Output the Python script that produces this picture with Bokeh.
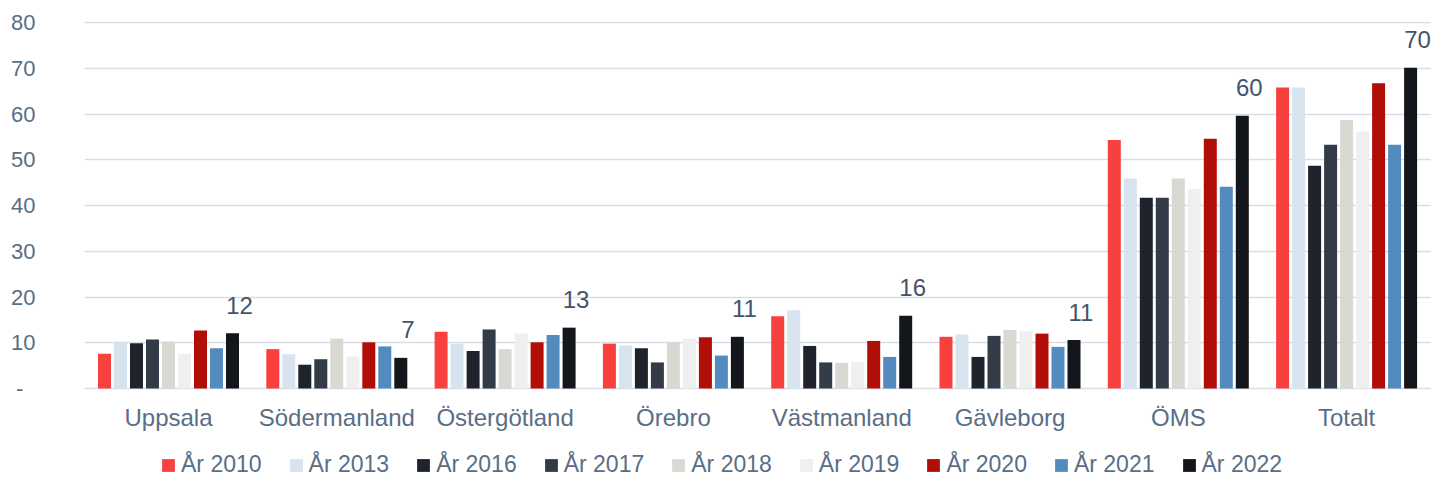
from bokeh.plotting import figure
from bokeh.models import ColumnDataSource, Range1d, FixedTicker, Legend, LegendItem
from bokeh.core.properties import value
from bokeh.embed import file_html
from bokeh.resources import INLINE

categories = ["Uppsala", "Södermanland", "Östergötland", "Örebro", "Västmanland",
              "Gävleborg", "ÖMS", "Totalt"]
years = ["År 2010", "År 2013", "År 2016", "År 2017", "År 2018", "År 2019",
         "År 2020", "År 2021", "År 2022"]

y2010 = [7.6, 8.6, 12.4, 9.8, 15.8, 11.3, 54.3, 65.8]
y2013 = [10.0, 7.5, 9.8, 9.4, 17.1, 11.8, 45.9, 65.8]
y2016 = [9.9, 5.2, 8.2, 8.8, 9.3, 6.9, 41.7, 48.7]
y2017 = [10.7, 6.4, 12.9, 5.7, 5.7, 11.5, 41.7, 53.3]
y2018 = [10.3, 10.9, 8.6, 10.1, 5.6, 12.8, 45.9, 58.7]
y2019 = [7.6, 7.0, 12.0, 10.9, 5.8, 12.5, 43.6, 56.2]
y2020 = [12.7, 10.1, 10.1, 11.2, 10.4, 12.0, 54.6, 66.7]
y2021 = [8.8, 9.2, 11.7, 7.2, 6.9, 9.1, 44.1, 53.3]
y2022 = [12.1, 6.7, 13.3, 11.3, 15.9, 10.6, 59.6, 70.1]

y_ticks = [0, 10, 20, 30, 40, 50, 60, 70, 80]
y_tick_labels = ["-\u00a0\u00a0", "10", "20", "30", "40", "50", "60", "70", "80"]

series = [y2010, y2013, y2016, y2017, y2018, y2019, y2020, y2021, y2022]
colors = ["#f8413e", "#d7e3ef", "#1f242c", "#333c46", "#d9d9d4", "#efefef",
          "#b20e08", "#548bbf", "#13171b"]

FONT = "Liberation Sans"
TICK_COLOR = "#596e86"
LABEL_COLOR = "#44546a"

# layout geometry (pixels)
W, H = 1431, 478
left_b, top_b = 84, 21
frame_w = W - left_b
px_per_cat = 168.3
first_center = 168
zero_px, top_px = 388, 22          # pixel rows of y=0 and y=80
ymax = 80
px_per_unit = (zero_px - top_px) / ymax

x_start = -(first_center - left_b) / px_per_cat
x_end = x_start + frame_w / px_per_cat
y_end = ymax + (top_px - top_b) / px_per_unit
y_start = -(H - zero_px) / px_per_unit

p = figure(width=W, height=H, output_backend="svg", toolbar_location=None,
           x_axis_location=None,
           x_range=Range1d(x_start, x_end), y_range=Range1d(y_start, y_end),
           min_border_left=left_b, min_border_right=0, min_border_top=top_b,
           min_border_bottom=0)
p.outline_line_color = None
p.background_fill_color = "white"
p.border_fill_color = "white"

pitch = 16 / px_per_cat
bw = 13 / px_per_cat
n = len(series)
xs_idx = list(range(len(categories)))

items = []
for j, (vals, col, name) in enumerate(zip(series, colors, years)):
    off = (j - (n - 1) / 2) * pitch
    src = ColumnDataSource(dict(x=[i + off for i in xs_idx], top=vals))
    r = p.vbar(x="x", top="top", bottom=0, width=bw, source=src,
               fill_color=col, line_color=None)
    items.append(LegendItem(label=name, renderers=[r]))

# data labels on last series
off_last = ((n - 1) - (n - 1) / 2) * pitch
lab_src = ColumnDataSource(dict(x=[i + off_last for i in xs_idx], y=y2022,
                                t=[str(int(v + 0.5)) for v in y2022]))
p.text(x="x", y="y", text="t", source=lab_src, text_align="center",
       text_baseline="alphabetic", x_offset=7, y_offset=-28,
       text_font=value(FONT), text_font_size="24px", text_color=LABEL_COLOR)

# category labels, placed under the zero line
cat_src = ColumnDataSource(dict(x=xs_idx, y=[0] * len(xs_idx), t=categories))
p.text(x="x", y="y", text="t", source=cat_src, text_align="center",
       text_baseline="middle", y_offset=29,
       text_font=value(FONT), text_font_size="24px", text_color=TICK_COLOR)

# y axis
p.yaxis.ticker = FixedTicker(ticks=y_ticks)
p.yaxis.major_label_overrides = {t: l for t, l in zip(y_ticks, y_tick_labels)}
p.yaxis.axis_line_color = None
p.yaxis.major_tick_line_color = None
p.yaxis.minor_tick_line_color = None
p.yaxis.major_label_text_font = FONT
p.yaxis.major_label_text_font_size = "22px"
p.yaxis.major_label_text_color = TICK_COLOR
p.yaxis.major_label_standoff = 43
p.xgrid.grid_line_color = None
p.ygrid.ticker = FixedTicker(ticks=y_ticks)
p.ygrid.grid_line_color = "#d9dde6"
p.ygrid.grid_line_width = 1.5

legend = Legend(items=items, orientation="horizontal", location=(76, 0),
                padding=0, margin=0, spacing=26, label_standoff=5,
                glyph_width=16, glyph_height=16,
                label_text_font=FONT, label_text_font_size="23px",
                label_text_color=TICK_COLOR, border_line_color=None,
                background_fill_alpha=0)
p.add_layout(legend, "center")

open("out.html", "w").write(file_html(p, INLINE))
